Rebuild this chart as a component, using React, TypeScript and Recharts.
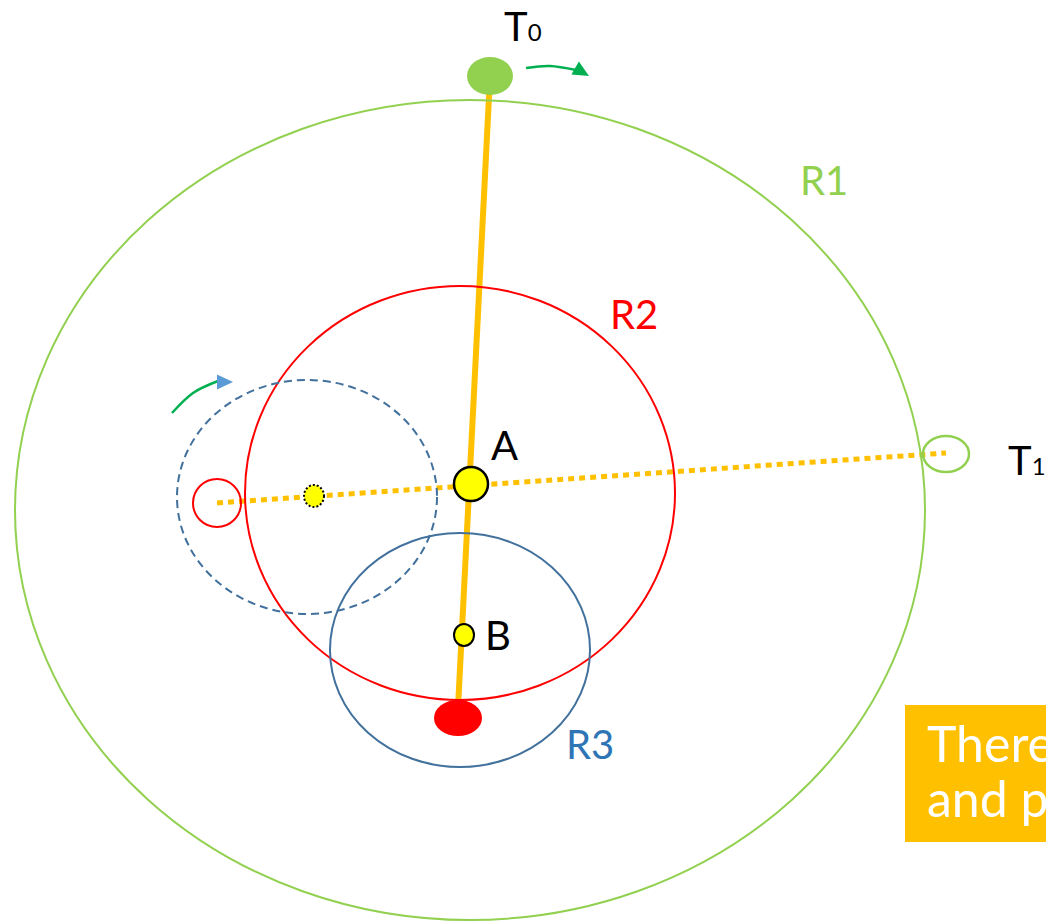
import React from 'react';
import { ComposedChart, XAxis, YAxis, Scatter, Line, ReferenceArea } from 'recharts';

const W = 1046;
const H = 922;

// orbits (centre + radii, in picture units)
const orbitR1 = [{ x: 470, y: 510, rx: 455, ry: 410 }];
const orbitR2 = [{ x: 460, y: 493, rx: 215, ry: 207 }];
const orbitR3 = [{ x: 460, y: 650, rx: 130, ry: 117 }];
const orbitGhost = [{ x: 307, y: 497, rx: 130, ry: 117 }];
const redRing = [{ x: 217, y: 503, rx: 24, ry: 24 }];
const targetT1 = [{ x: 946, y: 454, rx: 23, ry: 18 }];

// bodies
const bodyT0 = [{ x: 490, y: 76, rx: 23, ry: 19 }];
const bodyRed = [{ x: 458, y: 718, rx: 24, ry: 18 }];
const pointA = [{ x: 471, y: 484, rx: 17, ry: 17 }];
const pointB = [{ x: 464, y: 635, rx: 10, ry: 11 }];
const pointGhost = [{ x: 314, y: 496, rx: 10, ry: 11 }];

// lines
const solidArm = [{ x: 490, y: 77 }, { x: 458, y: 708 }];
const dottedArm = [{ x: 217, y: 503 }, { x: 946, y: 453 }];
const arrowTop = [{ x: 526, y: 68 }, { x: 550, y: 66 }, { x: 576, y: 70 }];
const arrowLeft = [{ x: 172, y: 413 }, { x: 193, y: 393 }, { x: 218, y: 381 }];
const headTop = [{ x: 589, y: 76, angle: 30 }];
const headLeft = [{ x: 233, y: 382, angle: 0 }];

// text
const labels = [
  { x: 504, y: 41, text: 'T', sub: '0' },
  { x: 1008, y: 475, text: 'T', sub: '1' },
  { x: 491, y: 460, text: 'A', sub: '' },
  { x: 485, y: 650, text: 'B', sub: '' },
];
const labelR1 = [{ x: 800, y: 195, text: 'R1', sub: '' }];
const labelR2 = [{ x: 610, y: 329, text: 'R2', sub: '' }];
const labelR3 = [{ x: 566, y: 759, text: 'R3', sub: '' }];
const noteLines = [
  { x: 927, y: 762, text: 'There', sub: '' },
  { x: 927, y: 817, text: 'and pr', sub: '' },
];

const FONT = 'Lato, "Open Sans", sans-serif';

const ellipse = (style: any) => (props: any) => {
  const { cx, cy, payload } = props;
  if (cx == null || cy == null) return <g />;
  return <ellipse cx={cx} cy={cy} rx={payload.rx} ry={payload.ry} {...style} />;
};

const textShape = (style: any) => (props: any) => {
  const { cx, cy, payload } = props;
  if (cx == null || cy == null) return <g />;
  return (
    <text x={cx} y={cy} fontFamily={FONT} {...style}>
      {payload.text}
      {payload.sub ? (
        <tspan fontSize={style.fontSize * 0.6}>{payload.sub}</tspan>
      ) : null}
    </text>
  );
};

// tip of the triangle sits on the data point
const arrowHead = (fill: string) => (props: any) => {
  const { cx, cy, payload } = props;
  if (cx == null || cy == null) return <g />;
  return (
    <polygon
      points="0,0 -16,-7.5 -16,7.5"
      transform={`translate(${cx},${cy}) rotate(${payload.angle})`}
      fill={fill}
    />
  );
};

export default function App() {
  return (
    <div style={{ position: 'absolute', left: 0, top: 0, width: W, height: H, background: '#fff' }}>
      <ComposedChart width={W} height={H} margin={{ top: 0, right: 0, bottom: 0, left: 0 }}>
        <XAxis type="number" dataKey="x" domain={[0, W]} hide allowDataOverflow />
        <YAxis type="number" dataKey="y" domain={[0, H]} reversed hide allowDataOverflow />

        <ReferenceArea x1={905} x2={W} y1={705} y2={842} fill="#ffc000" fillOpacity={1} stroke="none" />

        <Scatter data={orbitR1} dataKey="y" isAnimationActive={false}
          shape={ellipse({ fill: 'none', stroke: '#92d050', strokeWidth: 2 })} />
        <Scatter data={orbitR2} dataKey="y" isAnimationActive={false}
          shape={ellipse({ fill: 'none', stroke: '#ff0000', strokeWidth: 2 })} />
        <Scatter data={orbitR3} dataKey="y" isAnimationActive={false}
          shape={ellipse({ fill: 'none', stroke: '#41719c', strokeWidth: 2 })} />
        <Scatter data={orbitGhost} dataKey="y" isAnimationActive={false}
          shape={ellipse({ fill: 'none', stroke: '#41719c', strokeWidth: 2, strokeDasharray: '8 5' })} />
        <Scatter data={redRing} dataKey="y" isAnimationActive={false}
          shape={ellipse({ fill: 'none', stroke: '#ff0000', strokeWidth: 2 })} />
        <Scatter data={targetT1} dataKey="y" isAnimationActive={false}
          shape={ellipse({ fill: 'none', stroke: '#92d050', strokeWidth: 2.5 })} />
        <Scatter data={bodyT0} dataKey="y" isAnimationActive={false}
          shape={ellipse({ fill: '#92d050', stroke: 'none' })} />
        <Scatter data={bodyRed} dataKey="y" isAnimationActive={false}
          shape={ellipse({ fill: '#ff0000', stroke: 'none' })} />
        <Scatter data={pointB} dataKey="y" isAnimationActive={false}
          shape={ellipse({ fill: '#ffff00', stroke: '#000', strokeWidth: 2 })} />
        <Scatter data={pointGhost} dataKey="y" isAnimationActive={false}
          shape={ellipse({ fill: '#ffff00', stroke: '#000', strokeWidth: 2, strokeDasharray: '2 2' })} />

        <Line data={dottedArm} dataKey="y" type="linear" stroke="#ffc000" strokeWidth={5}
          strokeDasharray="6 5" dot={false} activeDot={false} isAnimationActive={false} />
        <Scatter data={pointA} dataKey="y" isAnimationActive={false}
          shape={ellipse({ fill: '#ffff00', stroke: '#000', strokeWidth: 2.5 })} />
        <Line data={solidArm} dataKey="y" type="linear" stroke="#ffc000" strokeWidth={6}
          dot={false} activeDot={false} isAnimationActive={false} />

        <Line data={arrowTop} dataKey="y" type="natural" stroke="#00b050" strokeWidth={2.5}
          dot={false} activeDot={false} isAnimationActive={false} />
        <Line data={arrowLeft} dataKey="y" type="natural" stroke="#00b050" strokeWidth={2.5}
          dot={false} activeDot={false} isAnimationActive={false} />
        <Scatter data={headTop} dataKey="y" isAnimationActive={false} shape={arrowHead('#00b050')} />
        <Scatter data={headLeft} dataKey="y" isAnimationActive={false} shape={arrowHead('#5b9bd5')} />

        <Scatter data={labels} dataKey="y" isAnimationActive={false}
          shape={textShape({ fill: '#000', fontSize: 40 })} />
        <Scatter data={labelR1} dataKey="y" isAnimationActive={false}
          shape={textShape({ fill: '#92d050', fontSize: 40 })} />
        <Scatter data={labelR2} dataKey="y" isAnimationActive={false}
          shape={textShape({ fill: '#ff0000', fontSize: 40 })} />
        <Scatter data={labelR3} dataKey="y" isAnimationActive={false}
          shape={textShape({ fill: '#2e75b6', fontSize: 40 })} />
        <Scatter data={noteLines} dataKey="y" isAnimationActive={false}
          shape={textShape({ fill: '#fff', fontSize: 50 })} />
      </ComposedChart>
    </div>
  );
}
